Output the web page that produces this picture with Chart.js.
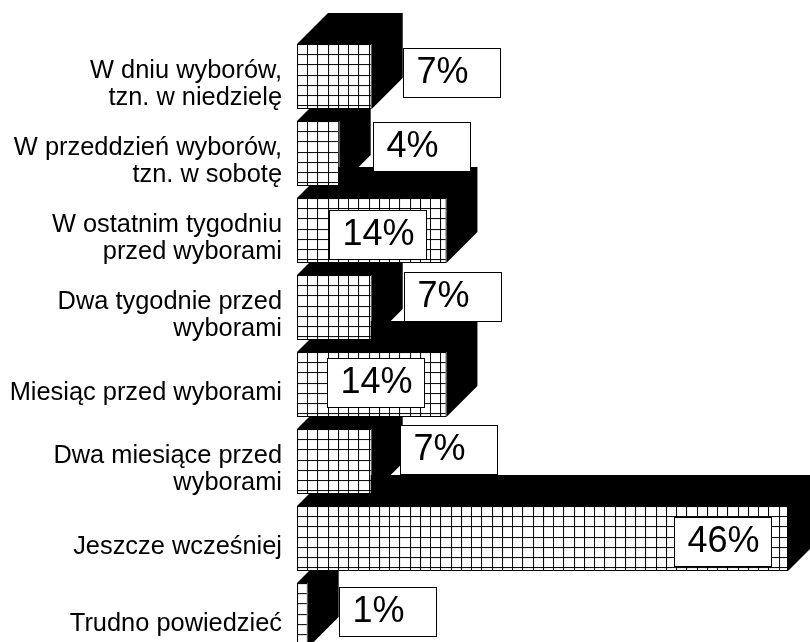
<!DOCTYPE html>
<html>
<head>
<meta charset="utf-8">
<script src="https://cdn.jsdelivr.net/npm/chart.js@4"></script>
<style>
html, body { margin: 0; padding: 0; background: #fff; overflow: hidden; height: 642px; }
#wrap { position: relative; width: 810px; height: 696px; }
</style>
</head>
<body>
<div id="wrap"><canvas id="chart"></canvas></div>
<script>
const categories = [
    ['W dniu wyborów,', 'tzn. w niedzielę'],
    ['W przeddzień wyborów,', 'tzn. w sobotę'],
    ['W ostatnim tygodniu', 'przed wyborami'],
    ['Dwa tygodnie przed', 'wyborami'],
    'Miesiąc przed wyborami',
    ['Dwa miesiące przed', 'wyborami'],
    'Jeszcze wcześniej',
    'Trudno powiedzieć'
]
const values = [7, 4, 14, 7, 14, 7, 46, 1]
const valueLabels = ['7%', '4%', '14%', '7%', '14%', '7%', '46%', '1%']
// where the label boxes sit, relative to the end and top of each bar
const boxLeft = [31, 33, -117, 32, -119, 28, -114, 31]
const boxTop = [4, 1, 12, -3, 6, -4, 11, 4]

const depth = 31
const barHeight = 65
const cell = [0, 10, 20, 31]
const tile = 41

function gridPattern(x, y){
    const c = document.createElement('canvas')
    c.width = tile
    c.height = tile
    const g = c.getContext('2d')
    g.fillStyle = '#fff'
    g.fillRect(0, 0, tile, tile)
    g.fillStyle = '#000'
    cell.forEach((p) => {
        g.fillRect(p, 0, 1, tile)
        g.fillRect(0, p, tile, 1)
    })
    const pattern = g.createPattern(c, 'repeat')
    pattern.setTransform(new DOMMatrix().translate(x, y))
    return pattern
}

const extrude = {
    id: 'extrude',
    beforeDatasetsDraw(chart){
        const ctx = chart.ctx
        ctx.fillStyle = '#000'
        chart.getDatasetMeta(0).data.forEach((bar) => {
            const top = bar.y - barHeight / 2
            const bottom = bar.y + barHeight / 2
            ctx.beginPath()
            ctx.moveTo(bar.base, top)
            ctx.lineTo(bar.base + depth, top - depth)
            ctx.lineTo(bar.x + depth, top - depth)
            ctx.lineTo(bar.x + depth, bottom - depth)
            ctx.lineTo(bar.x, bottom)
            ctx.lineTo(bar.x, top)
            ctx.closePath()
            ctx.fill()
        })
    }
}

const boxes = {
    id: 'boxes',
    afterDatasetsDraw(chart){
        const ctx = chart.ctx
        chart.getDatasetMeta(0).data.forEach((bar, i) => {
            const x = Math.round(bar.x + boxLeft[i]) + 0.5
            const y = Math.round(bar.y - barHeight / 2 + boxTop[i]) + 0.5
            ctx.fillStyle = '#fff'
            ctx.strokeStyle = '#000'
            ctx.lineWidth = 1
            ctx.fillRect(x, y, 97, 49)
            ctx.strokeRect(x, y, 97, 49)
            ctx.fillStyle = '#000'
            ctx.font = '36px "Liberation Sans"'
            ctx.textAlign = 'left'
            ctx.textBaseline = 'middle'
            ctx.fillText(valueLabels[i], x + 13, y + 25)
        })
    }
}

new Chart(document.getElementById('chart'), {
    type: 'bar',
    data: {
        labels: categories,
        datasets: [{
            data: values,
            categoryPercentage: 1,
            barPercentage: barHeight / 77,
            borderColor: '#000',
            borderWidth: 1,
            backgroundColor(c){
                const y = c.chart.scales.y
                if(!y || c.dataIndex === undefined) return '#fff'
                return gridPattern(y.left + y.width, y.getPixelForValue(c.dataIndex) - barHeight / 2)
            }
        }]
    },
    options: {
        indexAxis: 'y',
        responsive: true,
        maintainAspectRatio: false,
        animation: false,
        layout: { padding: { top: 38, bottom: 6, right: 22, left: 0 } },
        plugins: { legend: { display: false }, tooltip: { enabled: false } },
        scales: {
            x: { display: false, min: 0, max: 46 },
            y: {
                afterFit(s){ s.width = 297 },
                border: { display: false },
                grid: { display: false, drawTicks: false },
                ticks: {
                    padding: 15,
                    labelOffset: 8,
                    autoSkip: false,
                    color: '#000',
                    font: { family: '"Liberation Sans"', size: 25.4, lineHeight: 1.06 }
                }
            }
        }
    },
    plugins: [extrude, boxes]
})
</script>
</body>
</html>
